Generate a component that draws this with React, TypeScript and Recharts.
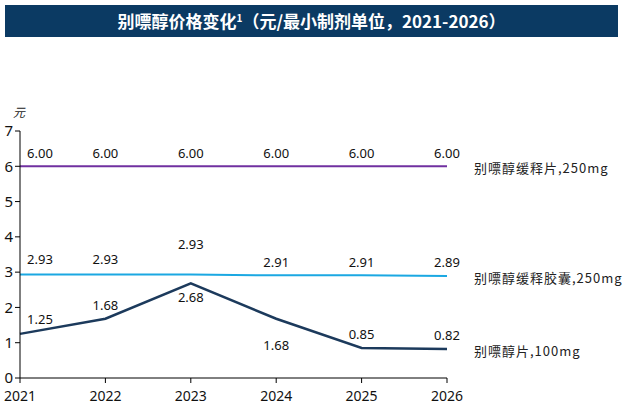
import { LineChart, Line, XAxis, YAxis, LabelList } from "recharts";

// 别嘌醇 price per smallest dosage unit, 2021-2026 (元)
const years = ["2021", "2022", "2023", "2024", "2025", "2026"];
const srTablet250 = [6.0, 6.0, 6.0, 6.0, 6.0, 6.0];
const srCapsule250 = [2.93, 2.93, 2.93, 2.91, 2.91, 2.89];
const tablet100 = [1.25, 1.68, 2.68, 1.68, 0.85, 0.82];
const seriesNames = ["别嘌醇缓释片,250mg", "别嘌醇缓释胶囊,250mg", "别嘌醇片,100mg"];
const yTicks = [0, 1, 2, 3, 4, 5, 6, 7];

const data = years.map((year, i) => ({
  year,
  srTablet: srTablet250[i],
  srCapsule: srCapsule250[i],
  tablet: tablet100[i],
}));

const FONT = "'Noto Sans', 'Noto Sans CJK SC', sans-serif";
const CJK = "'Noto Sans CJK SC', sans-serif";

// vertical nudge of each value label relative to its point
const purpleDy = [-13, -13, -13, -13, -13, -13];
const blueDy = [-16, -16, -31, -13, -13, -14];
const navyDy = [-15, -14, 14, 26, -14, -14];

function makeLabel(dys: number[], name: string) {
  return (props: any) => {
    const { x, y, value, index } = props;
    const dx = index === 0 ? 20 : 0;
    return (
      <g>
        <text
          x={x + dx}
          y={y + dys[index]}
          textAnchor="middle"
          dominantBaseline="central"
          fontSize={13}
          fontFamily={FONT}
          fill="#111"
        >
          {Number(value).toFixed(2)}
        </text>
        {index === years.length - 1 && (
          <text
            x={x + 27}
            y={y + 1}
            dominantBaseline="central"
            fontSize={13}
            letterSpacing={1}
            fontFamily={CJK}
            fill="#222"
          >
            {name}
          </text>
        )}
      </g>
    );
  };
}

export default function App() {
  return (
    <div
      style={{
        position: "absolute",
        left: 0,
        top: 0,
        width: 624,
        height: 413,
        background: "#fff",
        overflow: "hidden",
      }}
    >
      <div
        style={{
          position: "absolute",
          left: 5,
          top: 5,
          width: 613,
          height: 32,
          background: "#0b3a63",
          color: "#fff",
          fontFamily: CJK,
          fontWeight: 700,
          fontSize: 17,
          lineHeight: "32px",
          textAlign: "center",
        }}
      >
        别嘌醇价格变化
        <sup style={{ fontSize: 10, verticalAlign: "top", lineHeight: "26px" }}>1</sup>
        （元/最小制剂单位，2021-2026）
      </div>
      <div
        style={{
          position: "absolute",
          left: 13,
          top: 103,
          fontFamily: CJK,
          fontStyle: "italic",
          fontSize: 12,
          color: "#222",
        }}
      >
        元
      </div>
      <LineChart
        width={624}
        height={413}
        data={data}
        margin={{ top: 131, right: 177, bottom: 5, left: 0 }}
      >
        <XAxis
          dataKey="year"
          stroke="#000"
          tickLine={{ stroke: "#000" }}
          tickSize={5}
          tickMargin={8}
          height={30}
          tick={{ fill: "#111", fontSize: 14, fontFamily: FONT }}
        />
        <YAxis
          domain={[0, 7]}
          ticks={yTicks}
          width={20}
          stroke="#000"
          tickSize={5}
          tickMargin={2}
          tick={{ fill: "#111", fontSize: 15, fontFamily: FONT }}
        />
        <Line
          type="linear"
          dataKey="srTablet"
          stroke="#7030a0"
          strokeWidth={2}
          dot={false}
          isAnimationActive={false}
        >
          <LabelList dataKey="srTablet" content={makeLabel(purpleDy, seriesNames[0])} />
        </Line>
        <Line
          type="linear"
          dataKey="srCapsule"
          stroke="#1ba8e2"
          strokeWidth={2}
          dot={false}
          isAnimationActive={false}
        >
          <LabelList dataKey="srCapsule" content={makeLabel(blueDy, seriesNames[1])} />
        </Line>
        <Line
          type="linear"
          dataKey="tablet"
          stroke="#1c3a5c"
          strokeWidth={2.5}
          dot={false}
          isAnimationActive={false}
        >
          <LabelList dataKey="tablet" content={makeLabel(navyDy, seriesNames[2])} />
        </Line>
      </LineChart>
    </div>
  );
}
